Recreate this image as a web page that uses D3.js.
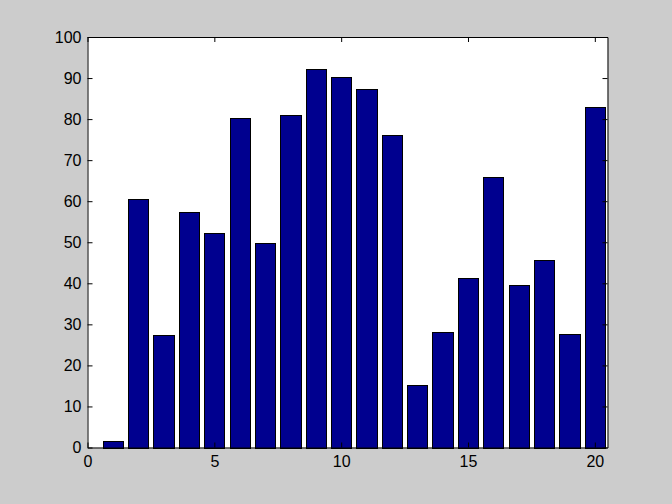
<!DOCTYPE html>
<html><head><meta charset="utf-8">
<script src="https://cdn.jsdelivr.net/npm/d3@7"></script>
<style>body{margin:0;background:#cccccc;} svg{display:block;}</style>
</head><body>
<script>
const categories = d3.range(1, 21);
const values = [1.6, 60.5, 27.3, 57.3, 52.2, 80.2, 49.8, 81.0, 92.2, 90.3, 87.3, 76.1, 15.2, 28.1, 41.2, 65.9, 39.5, 45.6, 27.6, 83.0];
const xTicks = [0, 5, 10, 15, 20];
const yTicks = [0, 10, 20, 30, 40, 50, 60, 70, 80, 90, 100];

const W = 672, H = 504;
const L = 87.5, R = 607.5, T = 37, B = 447.5;
const svg = d3.select("body").append("svg").attr("width", W).attr("height", H);
svg.append("rect").attr("width", W).attr("height", H).attr("fill", "#cccccc");
const x = d3.scaleLinear().domain([0, 20.5]).range([L, R]);
const y = d3.scaleLinear().domain([0, 100]).range([B, T]);

svg.append("rect").attr("x", L).attr("y", T).attr("width", R - L).attr("height", B - T).attr("fill", "#fff");

const bw = 0.8;
svg.append("g").selectAll("rect").data(values).join("rect")
  .attr("x", (d, i) => Math.round(x(categories[i] - bw / 2)) + 0.5)
  .attr("y", d => Math.round(y(d)) + 0.5)
  .attr("width", (d, i) => Math.round(x(categories[i] + bw / 2)) - Math.round(x(categories[i] - bw / 2)))
  .attr("height", d => Math.round(y(0)) - Math.round(y(d)))
  .attr("fill", "#00008f").attr("stroke", "#000").attr("stroke-width", 1);

const font = "Liberation Sans, Arial, Helvetica, sans-serif";
const axB = svg.append("g").attr("transform", `translate(0,${B})`)
  .call(d3.axisBottom(x).tickValues(xTicks).tickSizeInner(-5).tickSizeOuter(0).tickPadding(8));
const axT = svg.append("g").attr("transform", `translate(0,${T})`)
  .call(d3.axisTop(x).tickValues(xTicks).tickSizeInner(-5).tickSizeOuter(0).tickFormat(""));
const axL = svg.append("g").attr("transform", `translate(${L},0)`)
  .call(d3.axisLeft(y).tickValues(yTicks).tickSizeInner(-5).tickSizeOuter(0).tickPadding(6));
const axR = svg.append("g").attr("transform", `translate(${R},0)`)
  .call(d3.axisRight(y).tickValues(yTicks).tickSizeInner(-5).tickSizeOuter(0).tickFormat(""));
[axB, axT, axL, axR].forEach(a => {
  a.selectAll("path.domain").attr("stroke", "#000").attr("stroke-width", 1);
  a.selectAll(".tick line").attr("stroke", "#000");
  a.selectAll("text").attr("fill", "#000").style("font-family", font).style("font-size", "16px");
});
</script>
</body></html>
